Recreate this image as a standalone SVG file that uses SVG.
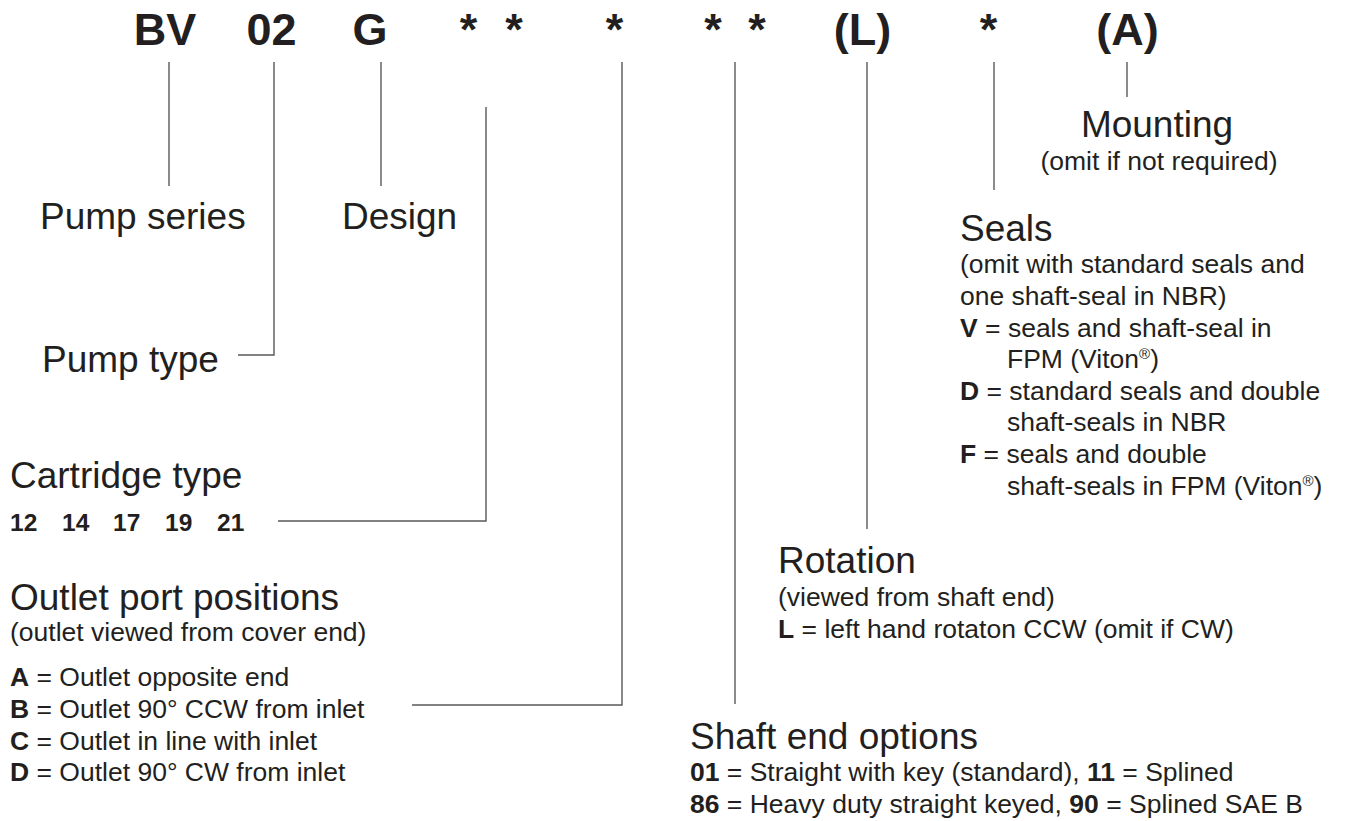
<svg xmlns="http://www.w3.org/2000/svg" width="1345" height="821" viewBox="0 0 1345 821">
<style>
text{font-family:"Liberation Sans",Arial,Helvetica,sans-serif;fill:#231f20}
.h{font-size:45px;font-weight:bold;text-anchor:middle}
.t{font-size:37px}
.s{font-size:26.5px}
.b{font-weight:bold}
.n{font-size:24.5px;font-weight:bold}
.ln{fill:none;stroke:#58595b;stroke-width:1.4}
</style>
<rect width="1345" height="821" fill="#ffffff"/>
<g id="code">
<text class="h" x="165" y="45">BV</text>
<text class="h" x="271.5" y="45">02</text>
<text class="h" x="370" y="45">G</text>
<text class="h" x="468.5" y="45">*</text>
<text class="h" x="514" y="45">*</text>
<text class="h" x="614.5" y="45">*</text>
<text class="h" x="713" y="45">*</text>
<text class="h" x="757" y="45">*</text>
<text class="h" x="862.5" y="45">(L)</text>
<text class="h" x="988.5" y="45">*</text>
<text class="h" x="1127.5" y="45">(A)</text>
</g>
<g id="connectors">
<path class="ln" d="M169 62V186"/>
<path class="ln" d="M274 62V355H238"/>
<path class="ln" d="M381 62V186"/>
<path class="ln" d="M486 107V521H278"/>
<path class="ln" d="M622 62V705H412"/>
<path class="ln" d="M735 62V704"/>
<path class="ln" d="M867 62V529"/>
<path class="ln" d="M994 62V190"/>
<path class="ln" d="M1127 62V97"/>
</g>
<g id="pump-series"><text class="t" x="40" y="229">Pump series</text></g>
<g id="design"><text class="t" x="342" y="229">Design</text></g>
<g id="pump-type"><text class="t" x="42" y="372">Pump type</text></g>
<g id="cartridge-type">
<text class="t" x="10" y="488">Cartridge type</text>
<text class="n" y="531"><tspan x="10">12</tspan><tspan x="62">14</tspan><tspan x="113">17</tspan><tspan x="165">19</tspan><tspan x="217">21</tspan></text>
</g>
<g id="outlet-port">
<text class="t" x="10" y="610">Outlet port positions</text>
<text class="s" x="10" y="641">(outlet viewed from cover end)</text>
<text class="s" x="10" y="686"><tspan class="b">A</tspan> = Outlet opposite end</text>
<text class="s" x="10" y="718"><tspan class="b">B</tspan> = Outlet 90° CCW from inlet</text>
<text class="s" x="10" y="750"><tspan class="b">C</tspan> = Outlet in line with inlet</text>
<text class="s" x="10" y="781"><tspan class="b">D</tspan> = Outlet 90° CW from inlet</text>
</g>
<g id="shaft-end">
<text class="t" x="690" y="749">Shaft end options</text>
<text class="s" x="690" y="781"><tspan class="b">01</tspan> = Straight with key (standard), <tspan class="b">11</tspan> = Splined</text>
<text class="s" x="690" y="813"><tspan class="b">86</tspan> = Heavy duty straight keyed, <tspan class="b">90</tspan> = Splined SAE B</text>
</g>
<g id="rotation">
<text class="t" x="778" y="573">Rotation</text>
<text class="s" x="778" y="606">(viewed from shaft end)</text>
<text class="s" x="778" y="638"><tspan class="b">L</tspan> = left hand rotaton CCW (omit if CW)</text>
</g>
<g id="seals">
<text class="t" x="960" y="241">Seals</text>
<text class="s" x="960" y="273">(omit with standard seals and</text>
<text class="s" x="960" y="305">one shaft-seal in NBR)</text>
<text class="s" x="960" y="337"><tspan class="b">V</tspan> = seals and shaft-seal in</text>
<text class="s" x="1007" y="368">FPM (Viton<tspan font-size="15" dy="-9">®</tspan><tspan dy="9">)</tspan></text>
<text class="s" x="960" y="400"><tspan class="b">D</tspan> = standard seals and double</text>
<text class="s" x="1007" y="431">shaft-seals in NBR</text>
<text class="s" x="960" y="463"><tspan class="b">F</tspan> = seals and double</text>
<text class="s" x="1007" y="495">shaft-seals in FPM (Viton<tspan font-size="15" dy="-9">®</tspan><tspan dy="9">)</tspan></text>
</g>
<g id="mounting">
<text class="t" x="1157" y="137" text-anchor="middle">Mounting</text>
<text class="s" x="1159" y="170" text-anchor="middle">(omit if not required)</text>
</g>
</svg>
